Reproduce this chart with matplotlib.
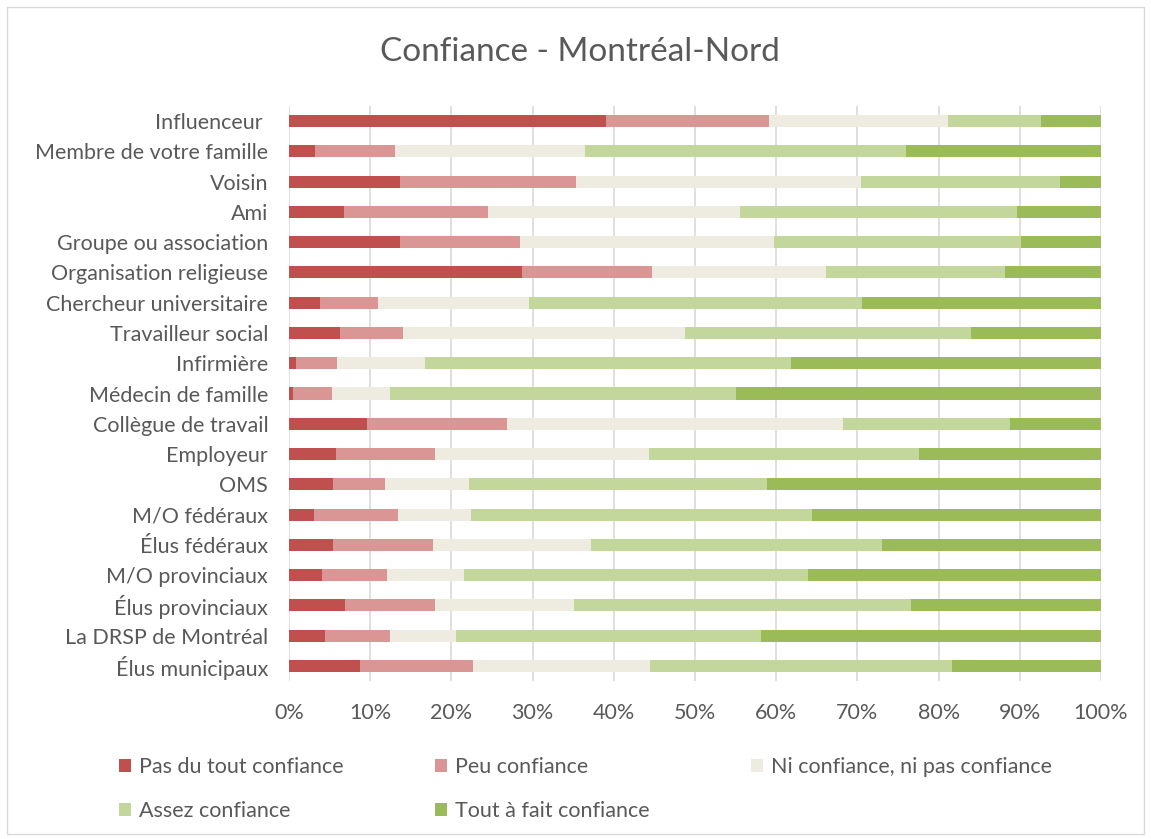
import matplotlib
matplotlib.use("Agg")
import matplotlib.pyplot as plt
from matplotlib.patches import Rectangle

categories = [
    "Influenceur ", "Membre de votre famille", "Voisin", "Ami",
    "Groupe ou association", "Organisation religieuse", "Chercheur universitaire",
    "Travailleur social", "Infirmière", "Médecin de famille", "Collègue de travail",
    "Employeur", "OMS", "M/O fédéraux", "Élus fédéraux", "M/O provinciaux",
    "Élus provinciaux", "La DRSP de Montréal", "Élus municipaux",
]

pas_du_tout = [39.0, 3.2, 13.7, 6.8, 13.7, 28.7, 3.8, 6.3, 0.9, 0.5, 9.6, 5.8, 5.4, 3.1, 5.4, 4.1, 6.9, 4.4, 8.7]
peu = [20.1, 9.9, 21.7, 17.7, 14.7, 16.0, 7.2, 7.7, 5.0, 4.8, 17.2, 12.2, 6.4, 10.3, 12.3, 8.0, 11.1, 8.0, 14.0]
ni_ni = [22.0, 23.4, 35.0, 31.0, 31.3, 21.4, 18.6, 34.8, 10.8, 7.1, 41.4, 26.3, 10.4, 9.0, 19.5, 9.4, 17.1, 8.2, 21.8]
assez = [11.5, 39.5, 24.5, 34.2, 30.5, 22.1, 41.0, 35.2, 45.1, 42.7, 20.6, 33.3, 36.7, 42.0, 35.8, 42.4, 41.5, 37.5, 37.1]
tout_a_fait = [7.4, 24.1, 5.1, 10.3, 9.8, 11.8, 29.4, 16.0, 38.2, 44.9, 11.2, 22.4, 41.1, 35.6, 27.0, 36.1, 23.4, 41.9, 18.4]

series_names = [
    "Pas du tout confiance", "Peu confiance", "Ni confiance, ni pas confiance",
    "Assez confiance", "Tout à fait confiance",
]
series = [pas_du_tout, peu, ni_ni, assez, tout_a_fait]
colors = ["#C0504D", "#D99694", "#EEECE1", "#C3D69B", "#9BBB59"]

text_color = "#595959"
plt.rcParams["font.family"] = ["Lato", "DejaVu Sans"]

fig = plt.figure(figsize=(11.51, 8.39), dpi=100)
ax = fig.add_axes([289 / 1151, 1 - 681 / 839, (1101 - 289) / 1151, (681 - 106) / 839])

# outer chart frame
fig.patches.append(Rectangle((0.006, 0.006), 0.988, 0.986, transform=fig.transFigure,
                             fill=False, edgecolor="#d9d9d9", linewidth=1))

y = list(range(len(categories)))
handles = []
left = [0.0] * len(categories)
for name, vals, col in zip(series_names, series, colors):
    total = [sum(s[i] for s in series) for i in range(len(categories))]
    widths = [v / t * 100 for v, t in zip(vals, total)]
    bars = ax.barh(y, widths, left=left, height=0.4, color=col, label=name, zorder=3)
    handles.append(bars)
    left = [l + w for l, w in zip(left, widths)]

ax.set_xlim(0, 100)
ax.set_ylim(len(categories) - 0.5, -0.5)
ax.set_yticks(y)
ax.set_yticklabels(categories, fontsize=15.5, color=text_color)
ax.set_xticks(range(0, 101, 10))
ax.set_xticklabels([f"{v}%" for v in range(0, 101, 10)], fontsize=15.5, color=text_color)
ax.tick_params(length=0)
ax.tick_params(axis="y", pad=15)
ax.tick_params(axis="x", pad=16)
ax.grid(axis="x", color="#d9d9d9", linewidth=1.2, zorder=0)
for s in ax.spines.values():
    s.set_visible(False)

fig.text(0.504, 0.938, "Confiance - Montréal-Nord", ha="center", va="center",
         fontsize=24, color=text_color)

# legend: one small legend per column so columns sit at fixed positions
columns = [([0, 3], 119), ([1, 4], 435), ([2], 751)]
for idx, x0 in columns:
    leg = fig.legend([handles[i] for i in idx], [series_names[i] for i in idx],
                     loc="upper left", bbox_to_anchor=(x0 / 1151, 1 - 757 / 839),
                     frameon=False, fontsize=15.5, handlelength=0.55,
                     handleheight=0.55, handletextpad=0.4, labelspacing=1.12,
                     borderaxespad=0, borderpad=0, labelcolor=text_color)

fig.savefig("out.png", dpi=100)
